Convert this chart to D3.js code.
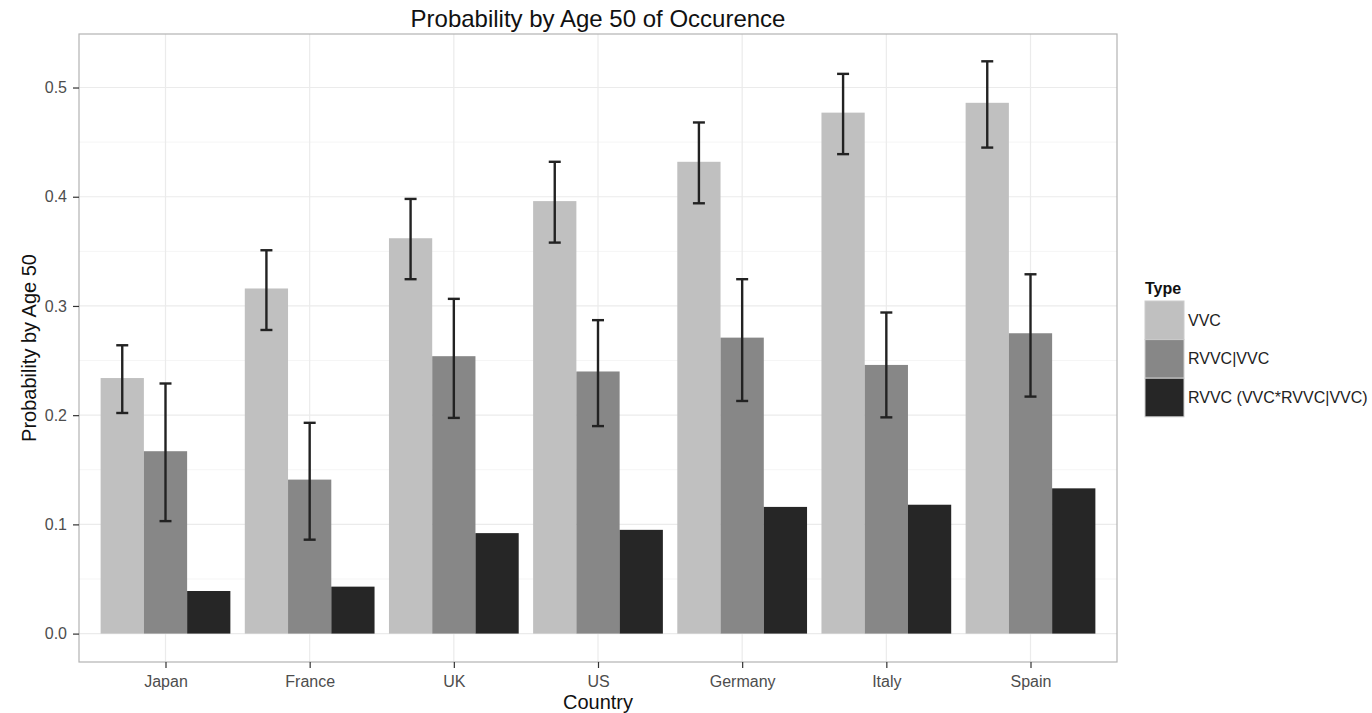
<!DOCTYPE html>
<html>
<head>
<meta charset="utf-8">
<script src="https://cdn.jsdelivr.net/npm/d3@7"></script>
<style>
  body { margin: 0; background: #fff; }
  svg { font-family: "Liberation Sans", Arial, sans-serif; }
</style>
</head>
<body>
<svg id="chart" width="1372" height="713"></svg>
<script>
const countries = ["Japan", "France", "UK", "US", "Germany", "Italy", "Spain"];
const types = ["VVC", "RVVC|VVC", "RVVC (VVC*RVVC|VVC)"];

// bar heights by type
const vvc = [0.234, 0.316, 0.362, 0.396, 0.432, 0.477, 0.486];
const rvvcGivenVvc = [0.167, 0.141, 0.254, 0.240, 0.271, 0.246, 0.275];
const rvvc = [0.039, 0.043, 0.092, 0.095, 0.116, 0.118, 0.133];

// error bars (only the first two types have them)
const vvcLow = [0.202, 0.278, 0.3245, 0.358, 0.394, 0.439, 0.445];
const vvcHigh = [0.264, 0.351, 0.398, 0.432, 0.468, 0.5125, 0.524];
const rvvcGivenLow = [0.103, 0.086, 0.1975, 0.190, 0.213, 0.198, 0.217];
const rvvcGivenHigh = [0.229, 0.193, 0.3065, 0.287, 0.3245, 0.294, 0.329];

const yTicks = [0.0, 0.1, 0.2, 0.3, 0.4, 0.5];
const yMinor = [0.05, 0.15, 0.25, 0.35, 0.45];
const fills = ["#c0c0c0", "#878787", "#262626"];

const margin = { top: 34, right: 255, bottom: 51, left: 79 };
const svg = d3.select("#chart");
const width = 1372 - margin.left - margin.right;
const height = 713 - margin.top - margin.bottom;

const rows = [];
countries.forEach((c, i) => {
  rows.push({ country: c, type: types[0], value: vvc[i], lo: vvcLow[i], hi: vvcHigh[i] });
  rows.push({ country: c, type: types[1], value: rvvcGivenVvc[i], lo: rvvcGivenLow[i], hi: rvvcGivenHigh[i] });
  rows.push({ country: c, type: types[2], value: rvvc[i], lo: null, hi: null });
});

const x = d3.scalePoint().domain(countries).range([0, width]).padding(0.6);
const step = x.step();
const xSub = d3.scaleBand().domain(types).range([-0.45 * step, 0.45 * step]);
const y = d3.scaleLinear().domain([-0.026, 0.549]).range([height, 0]);
const color = d3.scaleOrdinal().domain(types).range(fills);

const g = svg.append("g")
  .attr("transform", "translate(" + margin.left + "," + margin.top + ")");

// grid
g.append("g").selectAll("line").data(yMinor).enter().append("line")
  .attr("x1", 0).attr("x2", width)
  .attr("y1", d => y(d)).attr("y2", d => y(d))
  .style("stroke", "#f5f5f5").style("stroke-width", 1);
g.append("g").selectAll("line").data(yTicks).enter().append("line")
  .attr("x1", 0).attr("x2", width)
  .attr("y1", d => y(d)).attr("y2", d => y(d))
  .style("stroke", "#ebebeb").style("stroke-width", 1.2);
g.append("g").selectAll("line").data(countries).enter().append("line")
  .attr("x1", d => x(d)).attr("x2", d => x(d))
  .attr("y1", 0).attr("y2", height)
  .style("stroke", "#ebebeb").style("stroke-width", 1.2);

// bars
g.append("g").selectAll("rect").data(rows).enter().append("rect")
  .attr("x", d => x(d.country) + xSub(d.type))
  .attr("width", xSub.bandwidth())
  .attr("y", d => y(d.value))
  .attr("height", d => y(0) - y(d.value))
  .style("fill", d => color(d.type));

// error bars
const capHalf = 6;
const err = g.append("g").selectAll("g")
  .data(rows.filter(d => d.lo !== null)).enter().append("g")
  .attr("transform", d => "translate(" + (x(d.country) + xSub(d.type) + xSub.bandwidth() / 2) + ",0)")
  .style("stroke", "#222").style("stroke-width", 2.4);
err.append("line").attr("x1", 0).attr("x2", 0)
  .attr("y1", d => y(d.lo)).attr("y2", d => y(d.hi));
err.append("line").attr("x1", -capHalf).attr("x2", capHalf)
  .attr("y1", d => y(d.lo)).attr("y2", d => y(d.lo));
err.append("line").attr("x1", -capHalf).attr("x2", capHalf)
  .attr("y1", d => y(d.hi)).attr("y2", d => y(d.hi));

// panel border
g.append("rect")
  .attr("width", width).attr("height", height)
  .style("fill", "none").style("stroke", "#b3b3b3").style("stroke-width", 1.2);

// axes
const yAxis = g.append("g")
  .call(d3.axisLeft(y).tickValues(yTicks).tickFormat(d3.format(".1f")).tickSize(6).tickPadding(6));
yAxis.select(".domain").remove();
yAxis.selectAll(".tick line").style("stroke", "#333").style("stroke-width", 1.2);
yAxis.selectAll("text").style("font-size", "16px").attr("fill", "#4d4d4d");

const xAxis = g.append("g")
  .attr("transform", "translate(0," + height + ")")
  .call(d3.axisBottom(x).tickSize(6).tickPadding(8));
xAxis.select(".domain").remove();
xAxis.selectAll(".tick line").style("stroke", "#333").style("stroke-width", 1.2);
xAxis.selectAll("text").style("font-size", "16px").attr("fill", "#4d4d4d");

// titles
svg.append("text")
  .attr("x", margin.left + width / 2).attr("y", 27)
  .attr("text-anchor", "middle")
  .style("font-size", "24px").style("fill", "#111")
  .text("Probability by Age 50 of Occurence");

svg.append("text")
  .attr("x", margin.left + width / 2).attr("y", 709)
  .attr("text-anchor", "middle")
  .style("font-size", "20px").style("fill", "#111")
  .text("Country");

svg.append("text")
  .attr("transform", "translate(36," + (margin.top + height / 2) + ") rotate(-90)")
  .attr("text-anchor", "middle")
  .style("font-size", "20px").style("fill", "#111")
  .text("Probability by Age 50");

// legend
const legend = svg.append("g").attr("transform", "translate(1145,280)");
legend.append("text")
  .attr("x", 0).attr("y", 14)
  .style("font-size", "16px").style("font-weight", "bold").style("fill", "#111")
  .text("Type");
const keyH = 38.6, keyW = 39;
const item = legend.selectAll(".item").data(types).enter().append("g")
  .attr("class", "item")
  .attr("transform", (d, i) => "translate(0," + (21 + i * keyH) + ")");
item.append("rect")
  .attr("width", keyW).attr("height", keyH)
  .style("fill", d => color(d))
  .style("stroke", "#cccccc").style("stroke-width", 1);
item.append("text")
  .attr("x", keyW + 4).attr("y", keyH / 2)
  .attr("dy", "0.35em")
  .style("font-size", "16px").style("fill", "#222")
  .text(d => d);
</script>
</body>
</html>
